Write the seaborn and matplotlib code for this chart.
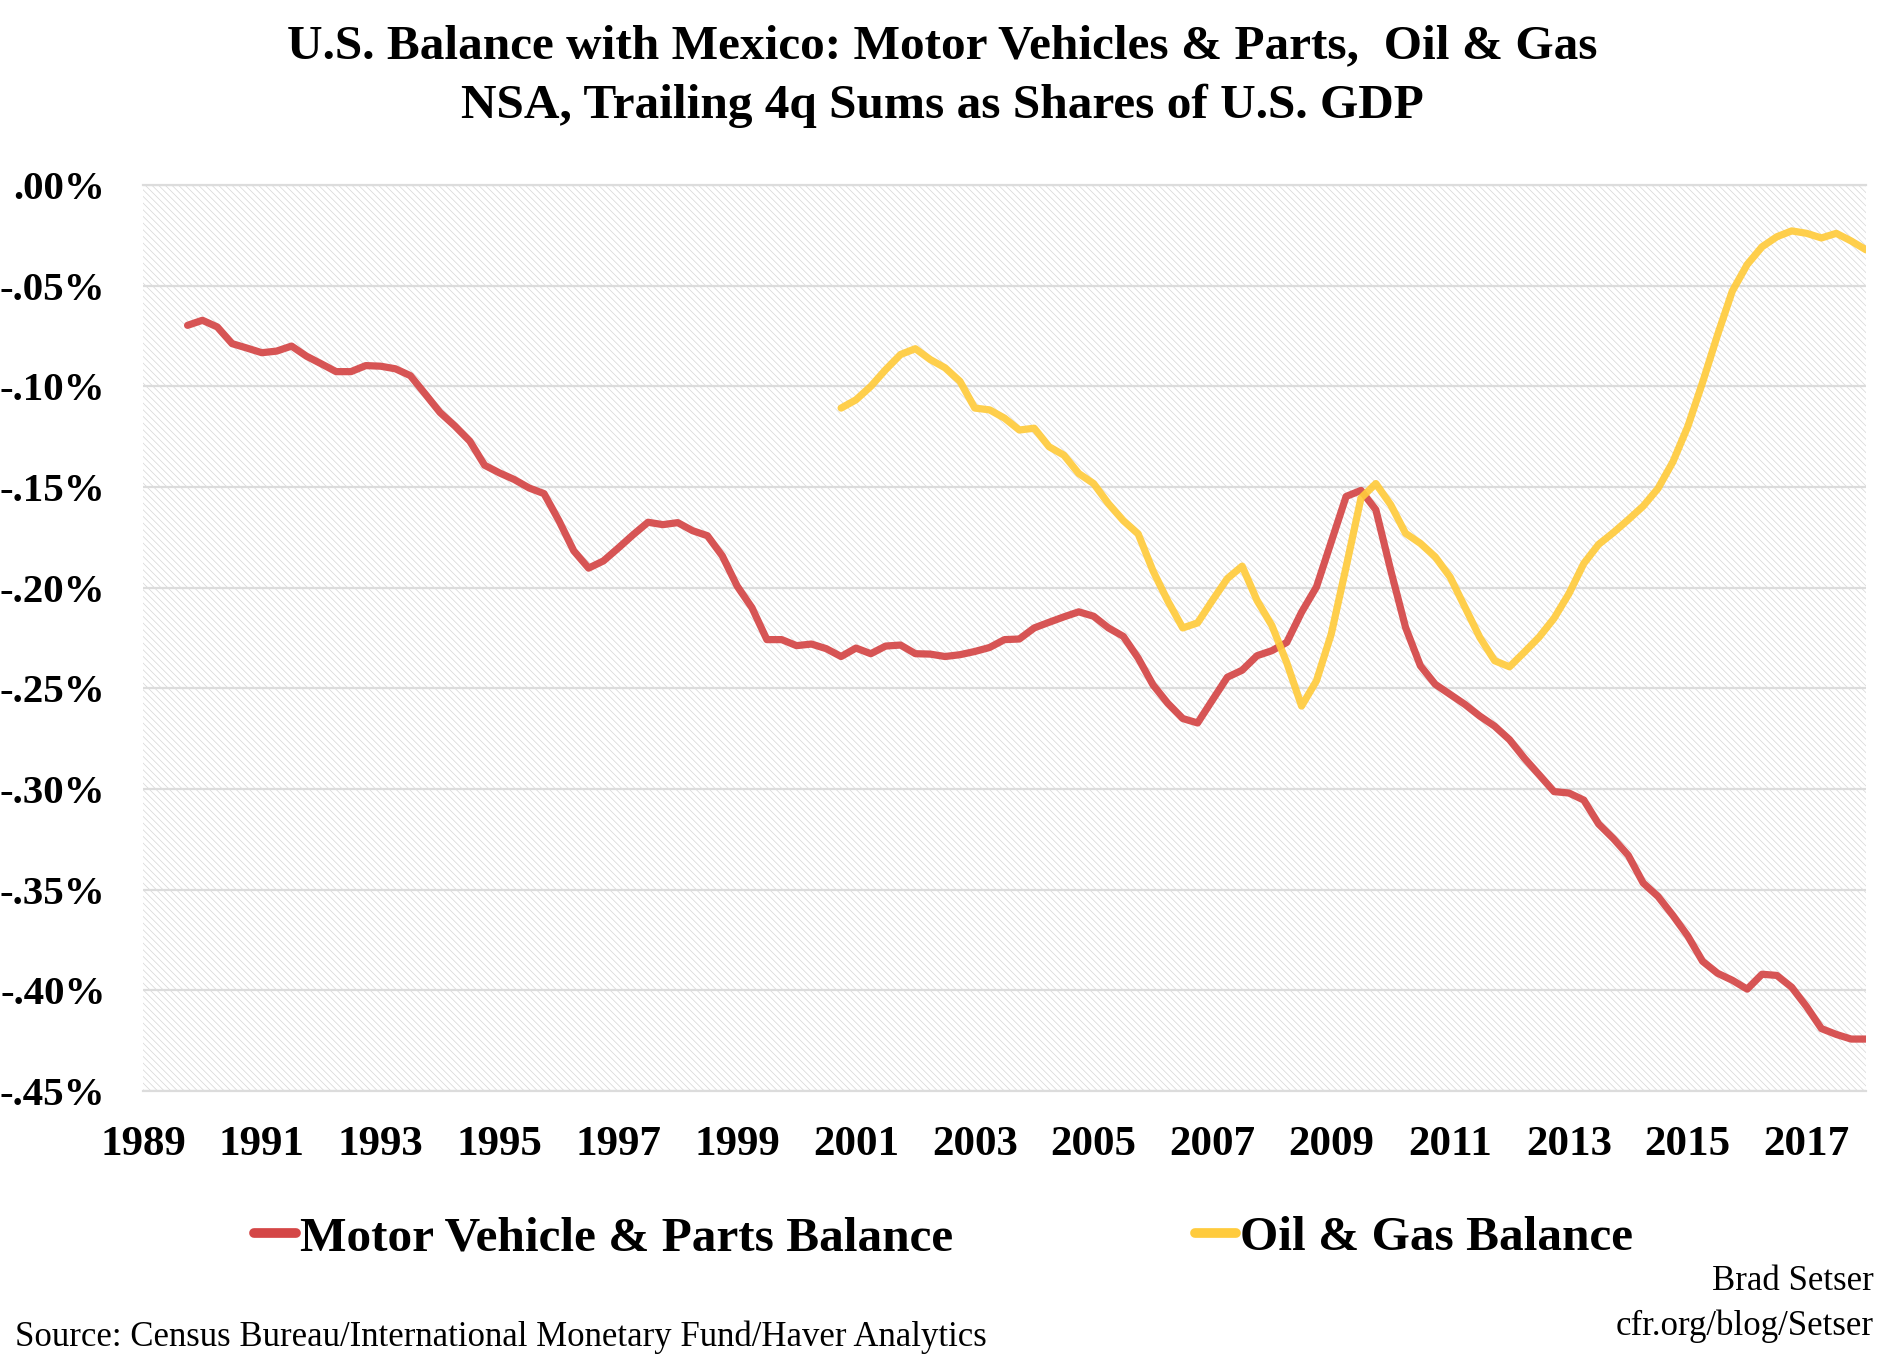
import numpy as np
import pandas as pd
import seaborn as sns
import matplotlib.pyplot as plt
from matplotlib.patches import Rectangle

####Data (share of U.S. GDP, %), quarterly, trailing 4q sums
motor_start = '1989Q4'
motor_vals = [-0.0697, -0.0672, -0.0705, -0.0788, -0.0810, -0.0833, -0.0825, -0.0800,
              -0.0850, -0.0888, -0.0927, -0.0927, -0.0897, -0.0900, -0.0913, -0.0947,
              -0.1038, -0.1130, -0.1197, -0.1272, -0.1392, -0.1430, -0.1463, -0.1505,
              -0.1533, -0.1667, -0.1817, -0.1903, -0.1867, -0.1803, -0.1737, -0.1675,
              -0.1687, -0.1677, -0.1717, -0.1742, -0.1842, -0.1992, -0.2100, -0.2258,
              -0.2258, -0.2288, -0.2280, -0.2303, -0.2342, -0.2300, -0.2328, -0.2290,
              -0.2285, -0.2328, -0.2330, -0.2342, -0.2333, -0.2317, -0.2297, -0.2258,
              -0.2255, -0.2200, -0.2172, -0.2145, -0.2120, -0.2142, -0.2200, -0.2242,
              -0.2350, -0.2483, -0.2575, -0.2650, -0.2672, -0.2558, -0.2445, -0.2410,
              -0.2338, -0.2313, -0.2272, -0.2122, -0.1997, -0.1772, -0.1547, -0.1517,
              -0.1613, -0.1913, -0.2197, -0.2388, -0.2480, -0.2530, -0.2580, -0.2638,
              -0.2688, -0.2755, -0.2847, -0.2930, -0.3013, -0.3020, -0.3055, -0.3174,
              -0.3247, -0.3330, -0.3467, -0.3534, -0.3628, -0.3730, -0.3856, -0.3915,
              -0.3950, -0.3994, -0.3920, -0.3926, -0.3985, -0.4081, -0.4190, -0.4219,
              -0.4242, -0.4242]

oil_start = '2000Q4'
oil_vals = [-0.1108, -0.1067, -0.1000, -0.0917, -0.0842, -0.0813, -0.0867, -0.0908,
            -0.0975, -0.1108, -0.1117, -0.1158, -0.1217, -0.1208, -0.1300, -0.1342,
            -0.1433, -0.1483, -0.1583, -0.1667, -0.1733, -0.1917, -0.2067, -0.2200,
            -0.2175, -0.2063, -0.1955, -0.1893, -0.2063, -0.2188, -0.2372, -0.2588,
            -0.2463, -0.2230, -0.1897, -0.1555, -0.1483, -0.1588, -0.1730, -0.1780,
            -0.1847, -0.1947, -0.2097, -0.2247, -0.2363, -0.2393, -0.2320, -0.2245,
            -0.2152, -0.2030, -0.1880, -0.1785, -0.1726, -0.1662, -0.1595, -0.1507,
            -0.1375, -0.1200, -0.0980, -0.0746, -0.0527, -0.0395, -0.0307, -0.0257,
            -0.0228, -0.0240, -0.0263, -0.0240, -0.0278, -0.0322]

motor_label = 'Motor Vehicle & Parts Balance'
oil_label = 'Oil & Gas Balance'
year_ticks = list(range(1989, 2018, 2))
y_ticks = [0.0, -0.05, -0.10, -0.15, -0.20, -0.25, -0.30, -0.35, -0.40, -0.45]
y_labels = ['.00%', '-.05%', '-.10%', '-.15%', '-.20%', '-.25%', '-.30%', '-.35%', '-.40%', '-.45%']

title1 = 'U.S. Balance with Mexico: Motor Vehicles & Parts,  Oil & Gas'
title2 = 'NSA, Trailing 4q Sums as Shares of U.S. GDP'
source = 'Source: Census Bureau/International Monetary Fund/Haver Analytics'
credit1 = 'Brad Setser'
credit2 = 'cfr.org/blog/Setser'

red = '#D44646'
yellow = '#FFCB3D'

####Build long dataframe
def qseries(start, vals, name):
    per = pd.period_range(start, periods=len(vals), freq='Q')
    x = per.year + (per.quarter - 1) / 4.0
    return pd.DataFrame({'date': x, 'value': vals, 'series': name})

df = pd.concat([qseries(motor_start, motor_vals, motor_label),
                qseries(oil_start, oil_vals, oil_label)], ignore_index=True)

####Plot
sns.set_theme(style='white')
plt.rcParams['font.family'] = ['Liberation Serif', 'DejaVu Serif']
plt.rcParams['text.color'] = 'black'
plt.rcParams['xtick.color'] = 'black'
plt.rcParams['ytick.color'] = 'black'
plt.rcParams['hatch.linewidth'] = 0.55

W, H = 1885, 1357
fig = plt.figure(figsize=(W / 100, H / 100), dpi=100)
ax = fig.add_axes([143 / W, 1 - 1091 / H, (1866 - 143) / W, (1091 - 185) / H])

ax.add_patch(Rectangle((0, 0), 1, 1, transform=ax.transAxes, facecolor='white',
                       edgecolor='#d8d8d8', hatch='\\\\\\\\\\', linewidth=0, zorder=0))

sns.lineplot(data=df, x='date', y='value', hue='series',
             palette={motor_label: red, oil_label: yellow},
             linewidth=5.2, alpha=0.92, solid_capstyle='round',
             solid_joinstyle='round', ax=ax, zorder=3)

ax.set_xlim(1989, 2018)
ax.set_ylim(-0.45, 0.0)
ax.set_xticks(year_ticks)
ax.set_xticklabels([str(y) for y in year_ticks])
ax.set_yticks(y_ticks)
ax.set_yticklabels(y_labels)
ax.set_xlabel('')
ax.set_ylabel('')
ax.set_axisbelow(True)
ax.yaxis.grid(True, color='#dcdcdc', linewidth=1.6)
ax.xaxis.grid(False)
for s in ['left', 'right']:
    ax.spines[s].set_visible(False)
for s in ['top', 'bottom']:
    ax.spines[s].set_color('#dcdcdc')
    ax.spines[s].set_linewidth(1.6)
ax.tick_params(axis='both', length=0, colors='black')
ax.tick_params(axis='y', pad=27, labelsize=29.5)
ax.tick_params(axis='x', pad=25, labelsize=31)
for lab in ax.get_xticklabels() + ax.get_yticklabels():
    lab.set_fontweight('bold')

handles, labels = ax.get_legend_handles_labels()
leg = ax.legend(handles, labels, loc='center left', ncol=2, frameon=False,
                bbox_to_anchor=(254 / W, 1 - 1238 / H), bbox_transform=fig.transFigure,
                fontsize=35.5, handlelength=0.85, handletextpad=0.08, columnspacing=4.9,
                borderpad=0, borderaxespad=0)
for t in leg.get_texts():
    t.set_fontweight('bold')
    t.set_color('black')
for h in leg.get_lines():
    h.set_linewidth(7)
    h.set_alpha(1)

fig.text(0.5, 1 - 46 / H, title1, ha='center', va='center', fontsize=35.5,
         fontweight='bold', color='black')
fig.text(0.5, 1 - 106 / H, title2, ha='center', va='center', fontsize=35.5,
         fontweight='bold', color='black')
fig.text(15 / W, 1 - 1337 / H, source, ha='left', va='center', fontsize=25, color='black')
fig.text(1874 / W, 1 - 1281 / H, credit1, ha='right', va='center', fontsize=25, color='black')
fig.text(1874 / W, 1 - 1326 / H, credit2, ha='right', va='center', fontsize=25, color='black')

plt.savefig('out.png', dpi=100)
